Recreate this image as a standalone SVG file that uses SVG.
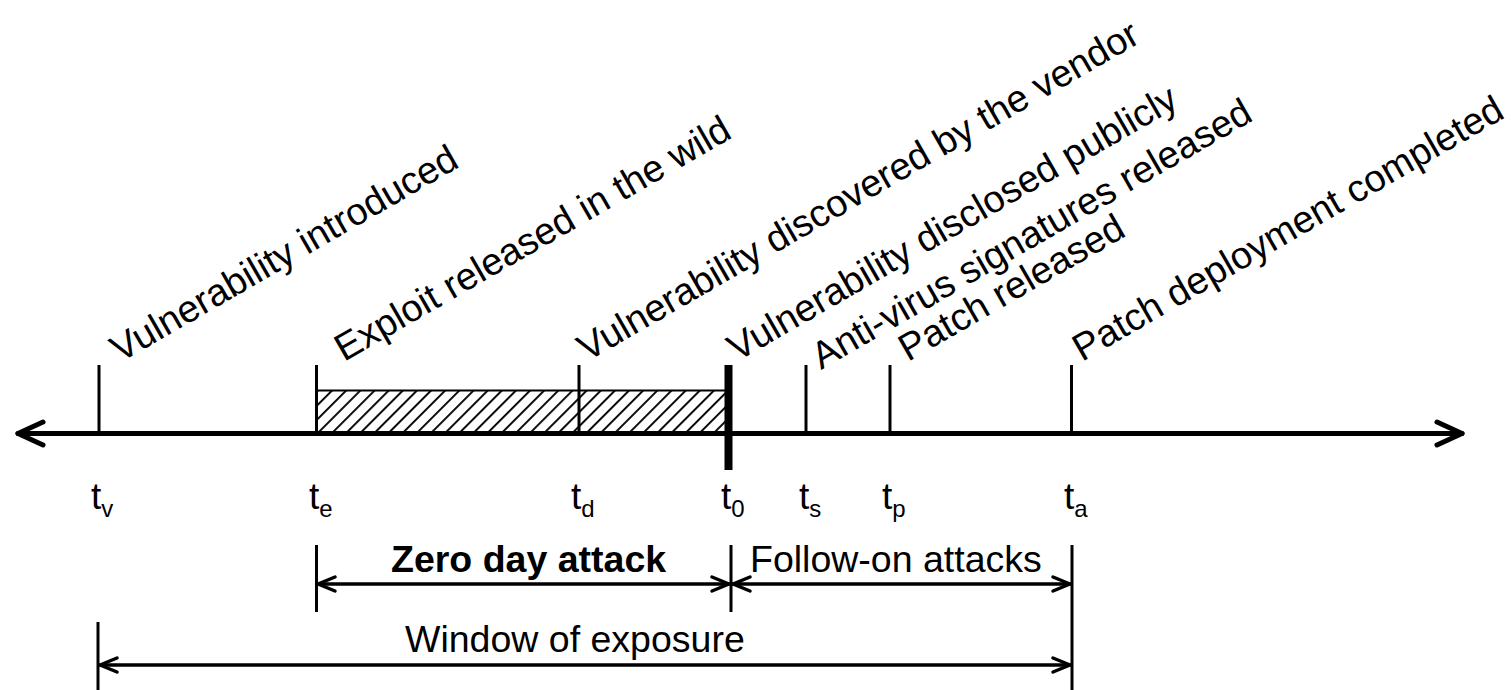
<svg xmlns="http://www.w3.org/2000/svg" width="1511" height="690" viewBox="0 0 1511 690">
<style>
  .lbl { font-family: "Liberation Sans", Arial, sans-serif; font-size: 38px; fill: #000; }
  .bl { font-family: "Liberation Sans", Arial, sans-serif; font-size: 37.5px; fill: #000; }
  .tl { font-family: "Liberation Sans", Arial, sans-serif; font-size: 37px; fill: #000; }
  .sub { font-size: 24px; }
  .tick { stroke: #000; stroke-width: 3; fill: none; }
  .axis { stroke: #000; stroke-width: 5; fill: none; stroke-linecap: round; stroke-linejoin: round; }
  .dim { stroke: #000; stroke-width: 3.5; fill: none; stroke-linecap: round; stroke-linejoin: round; }
</style>
<defs>
  <pattern id="hatch" patternUnits="userSpaceOnUse" width="10" height="10" patternTransform="rotate(45)">
    <line x1="0" y1="0" x2="0" y2="10" stroke="#000" stroke-width="3.8"/>
  </pattern>
</defs>
<rect width="1511" height="690" fill="#fff"/>

<g id="hatched-period">
  <rect x="316.5" y="390.5" width="412" height="43" fill="url(#hatch)" stroke="#000" stroke-width="2"/>
</g>

<g id="connectors">
  <line class="axis" x1="18" y1="433.5" x2="1462" y2="433.5"/>
  <polyline class="axis" points="43,422 18,433.5 43,445"/>
  <polyline class="axis" points="1437,422 1462,433.5 1437,445"/>
  <line class="dim" x1="318" y1="584" x2="729" y2="584"/>
  <polyline class="dim" points="335,577 318,584 335,591"/>
  <polyline class="dim" points="712,577 729,584 712,591"/>
  <line class="dim" x1="733" y1="584" x2="1070" y2="584"/>
  <polyline class="dim" points="750,577 733,584 750,591"/>
  <polyline class="dim" points="1053,577 1070,584 1053,591"/>
  <line class="dim" x1="100" y1="665" x2="1070" y2="665"/>
  <polyline class="dim" points="117,658 100,665 117,672"/>
  <polyline class="dim" points="1053,658 1070,665 1053,672"/>
</g>

<g id="tv">
  <line class="tick" x1="99" y1="365" x2="99" y2="433"/>
  <text class="lbl" transform="translate(120,363) rotate(-30)">Vulnerability introduced</text>
  <text class="tl" x="91" y="509">t<tspan class="sub" dy="8">v</tspan></text>
  <line class="tick" x1="98" y1="622" x2="98" y2="690"/>
</g>
<g id="te">
  <line class="tick" x1="316.5" y1="365" x2="316.5" y2="433"/>
  <text class="lbl" transform="translate(344,362) rotate(-30)">Exploit released in the wild</text>
  <text class="tl" x="309" y="509">t<tspan class="sub" dy="8">e</tspan></text>
  <line class="tick" x1="316.5" y1="545" x2="316.5" y2="612"/>
</g>
<g id="td">
  <line class="tick" x1="579" y1="365" x2="579" y2="433"/>
  <text class="lbl" transform="translate(587,362) rotate(-30)">Vulnerability discovered by the vendor</text>
  <text class="tl" x="571" y="509">t<tspan class="sub" dy="8">d</tspan></text>
</g>
<g id="t0">
  <line x1="728.5" y1="365" x2="728.5" y2="470" stroke="#000" stroke-width="8"/>
  <text class="lbl" transform="translate(737,362) rotate(-30)">Vulnerability disclosed publicly</text>
  <text class="tl" x="721" y="509">t<tspan class="sub" dy="8">0</tspan></text>
  <line class="tick" x1="731" y1="545" x2="731" y2="612"/>
</g>
<g id="ts">
  <line class="tick" x1="806" y1="365" x2="806" y2="433"/>
  <text class="lbl" transform="translate(821,370) rotate(-30)">Anti-virus signatures released</text>
  <text class="tl" x="799" y="509">t<tspan class="sub" dy="8">s</tspan></text>
</g>
<g id="tp">
  <line class="tick" x1="890" y1="365" x2="890" y2="433"/>
  <text class="lbl" transform="translate(908,362) rotate(-30)">Patch released</text>
  <text class="tl" x="882" y="509">t<tspan class="sub" dy="8">p</tspan></text>
</g>
<g id="ta">
  <line class="tick" x1="1071.5" y1="365" x2="1071.5" y2="433"/>
  <text class="lbl" transform="translate(1082,362) rotate(-30)">Patch deployment completed</text>
  <text class="tl" x="1064" y="509">t<tspan class="sub" dy="8">a</tspan></text>
  <line class="tick" x1="1072" y1="545" x2="1072" y2="690"/>
</g>

<g id="zero-day-label">
  <text class="bl" x="391" y="572" font-weight="bold">Zero day attack</text>
</g>
<g id="follow-on-label">
  <text class="bl" x="750" y="572">Follow-on attacks</text>
</g>
<g id="window-label">
  <text class="bl" x="405" y="652">Window of exposure</text>
</g>
</svg>
